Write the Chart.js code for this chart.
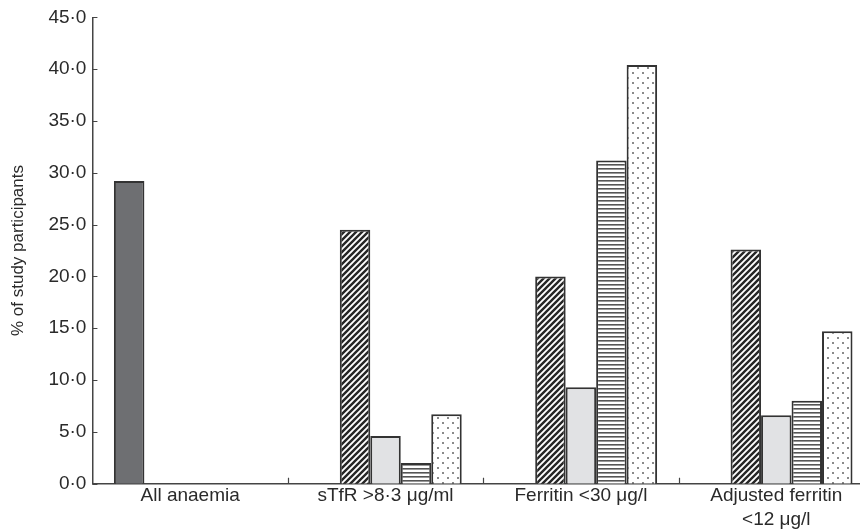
<!DOCTYPE html>
<html>
<head>
<meta charset="utf-8">
<script src="https://cdn.jsdelivr.net/npm/chart.js@4.4.1/dist/chart.umd.min.js"></script>
<style>
  html, body { margin: 0; padding: 0; background: #fff; overflow: hidden; }
  #wrap { width: 874px; height: 532px; }
</style>
</head>
<body>
<div id="wrap"><canvas id="chart"></canvas></div>
<script>
// data (% of study participants)
const categories = ['All anaemia', 'sTfR >8·3 μg/ml', 'Ferritin <30 μg/l', ['Adjusted ferritin', '<12 μg/l']];
const allAnaemia = [29.2, null, null, null];
const groupA = [null, 24.5, 20.0, 22.6];
const groupB = [null, 4.6, 9.3, 6.6];
const groupC = [null, 2.0, 31.2, 8.0];
const groupD = [null, 6.7, 40.4, 14.7];
const yTicks = [0, 5, 10, 15, 20, 25, 30, 35, 40, 45];

const font = 'Liberation Sans, Arial, sans-serif';

function tile(size, draw) {
  const c = document.createElement('canvas');
  c.width = size; c.height = size;
  const g = c.getContext('2d');
  g.fillStyle = '#fff';
  g.fillRect(0, 0, size, size);
  draw(g, size);
  return document.getElementById('chart').getContext('2d').createPattern(c, 'repeat');
}

const diagonal = tile(6, (g, s) => {
  g.strokeStyle = '#262626';
  g.lineWidth = 2.4;
  g.beginPath();
  g.moveTo(0, s); g.lineTo(s, 0);
  g.moveTo(-s / 2, s / 2); g.lineTo(s / 2, -s / 2);
  g.moveTo(s / 2, s * 1.5); g.lineTo(s * 1.5, s / 2);
  g.stroke();
});

const horizontal = tile(4, (g, s) => {
  g.fillStyle = '#555';
  g.fillRect(0, 0, s, 1.6);
});

const dots = tile(10, (g, s) => {
  g.fillStyle = '#8a8a8a';
  g.fillRect(2, 2, 2, 2);
  g.fillRect(7, 7, 2, 2);
});

const border = '#333';

// draw the small ticks inside the plot area like the original
const innerTicks = {
  id: 'innerTicks',
  afterDraw(chart) {
    const ctx = chart.ctx;
    const x = chart.scales.x, y = chart.scales.y;
    ctx.save();
    ctx.strokeStyle = '#444';
    ctx.lineWidth = 1.2;
    ctx.beginPath();
    yTicks.forEach(v => {
      const py = Math.round(y.getPixelForValue(v)) + 0.5;
      ctx.moveTo(x.left, py); ctx.lineTo(x.left + 5, py);
    });
    for (let i = 1; i < categories.length; i++) {
      const px = Math.round((x.getPixelForValue(i - 1) + x.getPixelForValue(i)) / 2) + 0.5;
      ctx.moveTo(px, y.bottom); ctx.lineTo(px, y.bottom - 6);
    }
    ctx.stroke();
    ctx.restore();
  }
};

new Chart(document.getElementById('chart'), {
  type: 'bar',
  data: {
    labels: categories,
    datasets: [
      { label: 'All anaemia', data: allAnaemia, backgroundColor: '#6e6f72' },
      { label: 'Group 1', data: groupA, backgroundColor: diagonal },
      { label: 'Group 2', data: groupB, backgroundColor: '#e1e2e4' },
      { label: 'Group 3', data: groupC, backgroundColor: horizontal },
      { label: 'Group 4', data: groupD, backgroundColor: dots }
    ].map(d => Object.assign(d, { borderColor: border, borderWidth: 2, barPercentage: 1, categoryPercentage: 0.78 }))
  },
  options: {
    responsive: true,
    maintainAspectRatio: false,
    animation: false,
    layout: { padding: { top: 2, left: 8, right: 0, bottom: 0 } },
    plugins: { legend: { display: false }, tooltip: { enabled: false } },
    scales: {
      x: {
        grid: { display: false, drawTicks: false },
        border: { color: '#444', width: 1.5 },
        ticks: { color: '#2a2a2a', font: { family: font, size: 19, lineHeight: 1.22 }, padding: 1, maxRotation: 0, autoSkip: false }
      },
      y: {
        min: 0, max: 45,
        afterBuildTicks: axis => { axis.ticks = yTicks.map(v => ({ value: v })); },
        grid: { display: false, drawTicks: false },
        border: { color: '#444', width: 1.5 },
        ticks: { color: '#2a2a2a', padding: 6, font: { family: font, size: 19 }, callback: v => v.toFixed(1).replace('.', '·') },
        title: { display: true, text: '% of study participants', color: '#2a2a2a', font: { family: font, size: 17 }, padding: { top: 0, bottom: 14 } }
      }
    }
  },
  plugins: [innerTicks]
});
</script>
</body>
</html>
